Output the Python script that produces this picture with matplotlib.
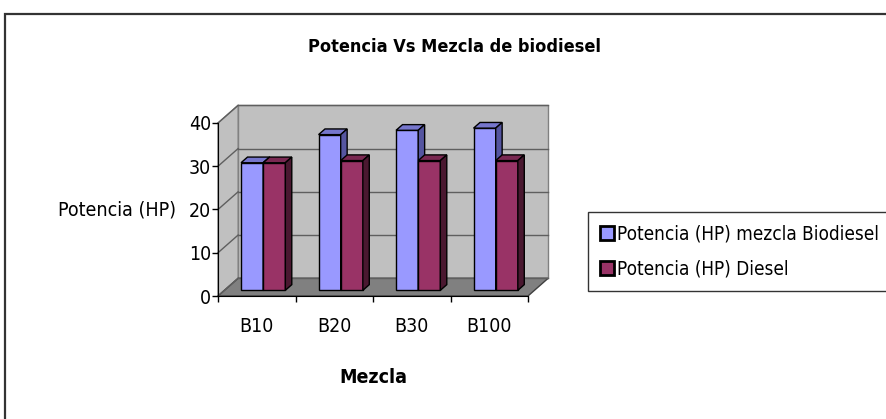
import matplotlib.pyplot as plt
from matplotlib import font_manager
from matplotlib.patches import Polygon, Rectangle, Patch

# Datos de potencia por mezcla
mezclas = ['B10', 'B20', 'B30', 'B100']
pot_biodiesel = [29.5, 36, 37, 37.5]
pot_diesel = [29.5, 30, 30, 30]
y_ticks = [0, 10, 20, 30, 40]

# fuente estrecha si existe
fuentes = {(f.name, f.stretch) for f in font_manager.fontManager.ttflist}
nombres = {n for n, _ in fuentes}
if 'Liberation Sans Narrow' in nombres:
    familia, estiramiento, tam = 'Liberation Sans Narrow', 'normal', 16
elif ('DejaVu Sans', 'condensed') in fuentes or ('DejaVu Sans', 'semi-condensed') in fuentes:
    familia, estiramiento, tam = 'DejaVu Sans', 'condensed', 14
else:
    familia, estiramiento, tam = 'Liberation Sans', 'normal', 14
plt.rcParams['font.family'] = [familia, 'DejaVu Sans']
plt.rcParams['font.stretch'] = estiramiento
plt.rcParams['font.size'] = tam

fig = plt.figure(figsize=(8.86, 4.19), dpi=100)

# marco exterior del grafico
fig.patches.append(Rectangle((5 / 886, -0.2), 1.2, 1.2 - 14 / 419, transform=fig.transFigure,
                             fill=False, ec='#333333', lw=1.6))

ax = fig.add_axes([218 / 886, 123 / 419, 310 / 886, 173 / 419])
ax.set_xlim(0, len(mezclas))
ax.set_ylim(0, 40)
ax.patch.set_visible(False)

# efecto 3D: desplazamiento de profundidad
DX, DY = 0.26, 4.1
n = len(mezclas)
ymax = y_ticks[-1]

# paredes y piso
ax.add_patch(Rectangle((DX, DY), n, ymax, fc='#c0c0c0', ec='#808080', lw=1, zorder=0, clip_on=False))
ax.add_patch(Polygon([(0, 0), (DX, DY), (DX, DY + ymax), (0, ymax)], closed=True,
                     fc='#c0c0c0', ec='#808080', lw=1, zorder=0, clip_on=False))
ax.add_patch(Polygon([(0, 0), (n, 0), (n + DX, DY), (DX, DY)], closed=True,
                     fc='#808080', ec='#404040', lw=1, zorder=1, clip_on=False))
for v in y_ticks:
    ax.plot([DX, n + DX], [v + DY, v + DY], color='#5f5f5f', lw=1, zorder=1, clip_on=False)
    ax.plot([0, DX], [v, v + DY], color='#5f5f5f', lw=1, zorder=1, clip_on=False)

# barras con caras superior y lateral
w = 1 / 3.5
f0, f1 = 0.32, 0.64
bx, by = f0 * DX, f0 * DY
ddx, ddy = (f1 - f0) * DX, (f1 - f0) * DY

series = [(pot_biodiesel, 0, '#9999ff', '#7676cc', '#5555a0', 3),
          (pot_diesel, 1, '#993366', '#7a2952', '#4a1830', 4)]
for vals, k, c_front, c_top, c_side, z in series:
    xs = [i + 0.5 - w + k * w + bx for i in range(n)]
    ax.bar(xs, vals, width=w, bottom=by, align='edge', color=c_front,
           edgecolor='black', lw=1, zorder=z, clip_on=False)
    for x, v in zip(xs, vals):
        top = by + v
        ax.add_patch(Polygon([(x, top), (x + w, top), (x + w + ddx, top + ddy), (x + ddx, top + ddy)],
                             closed=True, fc=c_top, ec='black', lw=1, zorder=z, clip_on=False))
        ax.add_patch(Polygon([(x + w, by), (x + w + ddx, by + ddy), (x + w + ddx, top + ddy), (x + w, top)],
                             closed=True, fc=c_side, ec='black', lw=1, zorder=z, clip_on=False))

# ejes
for s in ['top', 'right']:
    ax.spines[s].set_visible(False)
for s in ['left', 'bottom']:
    ax.spines[s].set_color('black')
    ax.spines[s].set_zorder(5)
ax.set_yticks(y_ticks)
ax.tick_params(axis='y', length=4, width=1, pad=1, labelsize=tam)
ax.set_xticks([i + 0.5 for i in range(n)])
ax.set_xticklabels(mezclas)
ax.set_xticks(range(n + 1), minor=True)
ax.tick_params(axis='x', which='major', length=0, pad=15, labelsize=tam)
ax.tick_params(axis='x', which='minor', length=4, width=1)

fig.text(454 / 886, 1 - 47 / 419, 'Potencia Vs Mezcla de biodiesel', ha='center', va='center',
         fontsize=tam - 1, fontweight='bold')
fig.text(117 / 886, 1 - 210 / 419, 'Potencia (HP)', ha='center', va='center', fontsize=tam)
fig.text(373 / 886, 1 - 377 / 419, 'Mezcla', ha='center', va='center', fontsize=tam, fontweight='bold')

handles = [Patch(fc='#9999ff', ec='black', lw=2), Patch(fc='#993366', ec='black', lw=2)]
leg = fig.legend(handles, ['Potencia (HP) mezcla Biodiesel', 'Potencia (HP) Diesel'],
                 loc='upper left', bbox_to_anchor=(588 / 886, 1 - 212 / 419), fontsize=tam - 0.4,
                 frameon=True, fancybox=False, handlelength=0.75, handleheight=0.75,
                 handletextpad=0.15, borderpad=0.65, labelspacing=0.85, borderaxespad=0)
leg.get_frame().set_edgecolor('black')
leg.get_frame().set_linewidth(1)

fig.savefig('out.png', dpi=100)
